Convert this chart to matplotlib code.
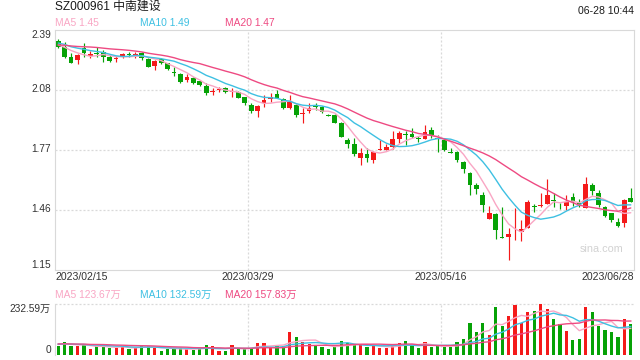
import numpy as np
import pandas as pd
import matplotlib
matplotlib.use('Agg')
import matplotlib.pyplot as plt
from matplotlib.transforms import blended_transform_factory as btf

plt.rcParams['font.family'] = ['Liberation Sans', 'Noto Sans CJK SC', 'DejaVu Sans']

# ---------------- data ----------------
opens = [2.331, 2.301, 2.249, 2.232, 2.294, 2.253, 2.266, 2.275, 2.249, 2.239,
         2.249, 2.264, 2.257, 2.267, 2.238, 2.203, 2.236, 2.215, 2.169, 2.160,
         2.129, 2.141, 2.122, 2.098, 2.071, 2.079, 2.086, 2.071, 2.069, 2.040,
         2.000, 1.970, 2.012, 2.032, 2.057, 2.031, 1.983, 2.000, 1.956, 1.970,
         1.992, 1.991, 1.949, 1.948, 1.908, 1.819, 1.798, 1.728, 1.747, 1.716,
         1.769, 1.767, 1.781, 1.823, 1.850, 1.850, 1.829, 1.823, 1.871, 1.829,
         1.819, 1.754, 1.759, 1.707, 1.650, 1.587, 1.535, 1.409, 1.437, 1.318,
         1.319, 1.353, 1.345, 1.363, 1.475, 1.478, 1.488, 1.506, 1.479, 1.478,
         1.523, 1.494, 1.468, 1.587, 1.547, 1.474, 1.440, 1.397, 1.389, 1.518]
highs = [2.341, 2.327, 2.270, 2.263, 2.320, 2.279, 2.301, 2.284, 2.258, 2.253,
         2.269, 2.272, 2.272, 2.274, 2.241, 2.232, 2.241, 2.218, 2.198, 2.164,
         2.159, 2.145, 2.125, 2.115, 2.086, 2.091, 2.094, 2.086, 2.072, 2.043,
         2.009, 2.000, 2.052, 2.060, 2.077, 2.035, 2.052, 2.004, 1.984, 2.009,
         2.009, 1.995, 1.953, 1.951, 1.912, 1.828, 1.828, 1.776, 1.776, 1.762,
         1.819, 1.797, 1.867, 1.867, 1.867, 1.880, 1.840, 1.897, 1.888, 1.845,
         1.824, 1.776, 1.762, 1.711, 1.655, 1.598, 1.552, 1.478, 1.442, 1.471,
         1.363, 1.468, 1.406, 1.509, 1.488, 1.547, 1.618, 1.545, 1.495, 1.535,
         1.547, 1.513, 1.630, 1.598, 1.561, 1.478, 1.442, 1.415, 1.514, 1.570]
lows = [2.294, 2.243, 2.215, 2.210, 2.248, 2.241, 2.249, 2.221, 2.224, 2.221,
        2.245, 2.249, 2.241, 2.232, 2.194, 2.181, 2.210, 2.181, 2.151, 2.112,
        2.120, 2.107, 2.098, 2.052, 2.052, 2.069, 2.060, 2.043, 2.035, 2.000,
        1.960, 1.940, 1.991, 2.017, 2.035, 1.981, 1.981, 1.940, 1.908, 1.957,
        1.974, 1.959, 1.943, 1.905, 1.833, 1.779, 1.738, 1.690, 1.707, 1.699,
        1.767, 1.767, 1.771, 1.802, 1.793, 1.828, 1.810, 1.823, 1.828, 1.759,
        1.762, 1.750, 1.705, 1.650, 1.535, 1.539, 1.449, 1.409, 1.309, 1.311,
        1.199, 1.302, 1.299, 1.363, 1.449, 1.474, 1.487, 1.471, 1.461, 1.457,
        1.478, 1.471, 1.466, 1.535, 1.474, 1.423, 1.397, 1.370, 1.368, 1.500]
closes = [2.301, 2.249, 2.218, 2.258, 2.270, 2.263, 2.264, 2.249, 2.229, 2.241,
          2.263, 2.262, 2.263, 2.241, 2.198, 2.227, 2.218, 2.184, 2.166, 2.119,
          2.146, 2.112, 2.102, 2.060, 2.072, 2.081, 2.069, 2.072, 2.038, 2.012,
          1.970, 1.995, 2.026, 2.043, 2.038, 1.983, 2.017, 1.948, 1.958, 1.983,
          1.990, 1.962, 1.947, 1.908, 1.836, 1.797, 1.747, 1.754, 1.728, 1.759,
          1.771, 1.781, 1.823, 1.854, 1.847, 1.833, 1.827, 1.862, 1.845, 1.822,
          1.767, 1.752, 1.716, 1.668, 1.587, 1.566, 1.483, 1.443, 1.354, 1.315,
          1.333, 1.355, 1.358, 1.500, 1.473, 1.485, 1.535, 1.504, 1.477, 1.500,
          1.500, 1.491, 1.592, 1.557, 1.483, 1.426, 1.406, 1.375, 1.509, 1.500]
# volume, in 万
volumes = [41.3, 61.0, 42.7, 41.3, 44.5, 27.5, 42.7, 41.3, 32.1, 33.5,
           38.1, 27.5, 32.1, 44.5, 42.0, 32.1, 18.4, 27.5, 28.9, 33.5,
           26.2, 22.9, 28.9, 44.5, 41.3, 18.4, 18.4, 44.5, 28.9, 28.9,
           32.1, 55.1, 55.1, 35.3, 41.3, 41.3, 105.5, 82.6, 61.0, 50.5,
           42.7, 35.3, 27.5, 35.3, 64.2, 56.4, 47.3, 47.3, 35.3, 44.5,
           32.1, 32.1, 41.3, 55.1, 64.2, 47.3, 32.1, 59.6, 35.3, 41.3,
           35.3, 35.3, 59.6, 73.4, 145.4, 105.5, 145.4, 91.8, 220.2, 133.0,
           178.9, 231.0, 145.4, 197.3, 203.3, 232.59, 211.0, 165.2, 140.9, 110.1,
           68.8, 73.4, 220.2, 197.3, 133.0, 114.7, 105.5, 82.6, 165.2, 142.2]
# closes / volumes of the 19 sessions before the first shown day (estimated from MA starts)
prior_closes = [2.28, 2.29, 2.31, 2.30, 2.29, 2.31, 2.32, 2.30, 2.29, 2.31,
                2.32, 2.34, 2.33, 2.33, 2.33, 2.31, 2.30, 2.32, 2.32]
prior_volumes = [48, 55, 52, 45, 60, 50, 47, 53, 58, 49,
                 51, 46, 55, 50, 52, 48, 54, 50, 49]

date_labels = ['2023/02/15', '2023/03/29', '2023/05/16', '2023/06/28']
date_idx = [0, 30, 60, 89]
price_ticks = [2.39, 2.08, 1.77, 1.46, 1.15]
vol_max = 232.59

title = 'SZ000961 中南建设'
timestamp = '06-28 10:44'
ma_price_text = ['MA5 1.45', 'MA10 1.49', 'MA20 1.47']
ma_vol_text = ['MA5 123.67万', 'MA10 132.59万', 'MA20 157.83万']
vol_tick_text = ['232.59万', '0']

# ---------------- style ----------------
RED = '#F41A1A'
GREEN = '#06A206'
MA_COLORS = ['#F9A6C4', '#3EC0E2', '#EE4A82']
GRID = '#D9D9D9'
TXT = '#333333'

W, H = 640, 360
fig = plt.figure(figsize=(W / 100, H / 100), dpi=100)
fx = lambda px: px / W
fy = lambda py: 1 - py / H

L, R = 55, 634
ax = fig.add_axes([fx(L), fy(269.5), (R - L) / W, 240 / H])
axv = fig.add_axes([fx(L), fy(355), (R - L) / W, 50.7 / H])

o = np.array(opens); h = np.array(highs); lo = np.array(lows); c = np.array(closes)
v = np.array(volumes)
n = len(c)
x = np.arange(n)
up = c >= o
cols = np.where(up, RED, GREEN)

# MAs
def ma(prior, vals, w):
    full = pd.Series(np.concatenate([prior, vals]))
    return full.rolling(w, min_periods=1).mean().values[len(prior):]

# candles
min_h = 0.005
bb = np.minimum(o, c)
bh = np.abs(c - o)
small = bh < min_h
bb = np.where(small, (o + c) / 2 - min_h / 2, bb)
bh = np.maximum(bh, min_h)
ax.vlines(x, lo, h, colors=cols, linewidth=0.85, zorder=2)
ax.bar(x, bh, bottom=bb, width=0.74, color=cols, linewidth=0, zorder=2)

for w, col in zip([5, 10, 20], MA_COLORS):
    ax.plot(x, ma(prior_closes, c, w), color=col, lw=1.0, zorder=3, solid_capstyle='round')

ax.set_xlim(-0.5, n - 0.5)
ax.set_ylim(price_ticks[-1], price_ticks[0])
ax.set_xticks([]); ax.set_yticks([])
for s in ['top', 'bottom', 'left', 'right']:
    ax.spines[s].set_color(GRID)
    ax.spines[s].set_linewidth(0.8)
for t in price_ticks[1:-1]:
    ax.axhline(t, color=GRID, lw=0.9, ls=(0, (1.6, 1.6)), zorder=1)
for i in date_idx[1:-1]:
    ax.axvline(i - 0.5, color=GRID, lw=0.9, ls=(0, (1.6, 1.6)), zorder=1)
    axv.axvline(i - 0.5, color=GRID, lw=0.9, ls=(0, (1.6, 1.6)), zorder=1)

tr = btf(ax.transAxes, ax.transData)
for k, t in enumerate(price_ticks):
    va = 'top' if k == 0 else ('bottom' if k == len(price_ticks) - 1 else 'center')
    ax.text(-0.007, t, f'{t:.2f}', transform=tr, ha='right', va=va,
            fontsize=7.3, color=TXT)

trx = btf(ax.transData, ax.transAxes)
for k, (i, lab) in enumerate(zip(date_idx, date_labels)):
    if k == 0:
        xp, ha = -0.5, 'left'
    elif k == len(date_idx) - 1:
        xp, ha = n - 0.5, 'right'
    else:
        xp, ha = i - 0.5, 'center'
    ax.text(xp, -7.5 / 240, lab, transform=trx, ha=ha, va='center', fontsize=7.6, color=TXT)

ax.text(602, 1.16 + 0.0 * 0, '', transform=ax.transData)
fig.text(fx(602), fy(249), 'sina.com', ha='center', va='center', fontsize=7.8, color='#D2D2D2')

# volume
axv.bar(x, v, width=0.5, color=cols, linewidth=0, zorder=2)
for w, col in zip([5, 10, 20], MA_COLORS):
    axv.plot(x, ma(prior_volumes, v, w), color=col, lw=1.0, zorder=3)
axv.set_xlim(-0.5, n - 0.5)
axv.set_ylim(0, vol_max)
axv.set_xticks([]); axv.set_yticks([])
for s in ['bottom', 'right']:
    axv.spines[s].set_visible(False)
axv.spines['top'].set_visible(False)
axv.axhline(vol_max, color=GRID, lw=0.9, ls=(0, (1.6, 1.6)), zorder=1, clip_on=False)
axv.spines['left'].set_color(GRID)
axv.spines['left'].set_linewidth(0.8)
trv = btf(axv.transAxes, axv.transData)
axv.text(-0.007, vol_max, vol_tick_text[0], transform=trv, ha='right', va='top', fontsize=7.3, color=TXT)
axv.text(-0.007, 0, vol_tick_text[1], transform=trv, ha='right', va='bottom', fontsize=7.3, color=TXT)

# header texts
fig.text(fx(55), fy(7), title, ha='left', va='center', fontsize=8.6, color='#1a1a1a')
fig.text(fx(634), fy(11.5), timestamp, ha='right', va='center', fontsize=7.6, color='#1a1a1a')
for xp, t, col in zip([55, 140, 225], ma_price_text, MA_COLORS):
    fig.text(fx(xp), fy(23.5), t, ha='left', va='center', fontsize=7.4, color=col)
for xp, t, col in zip([55, 140, 225], ma_vol_text, MA_COLORS):
    fig.text(fx(xp), fy(295), t, ha='left', va='center', fontsize=7.4, color=col)

fig.savefig('out.png', dpi=100)
